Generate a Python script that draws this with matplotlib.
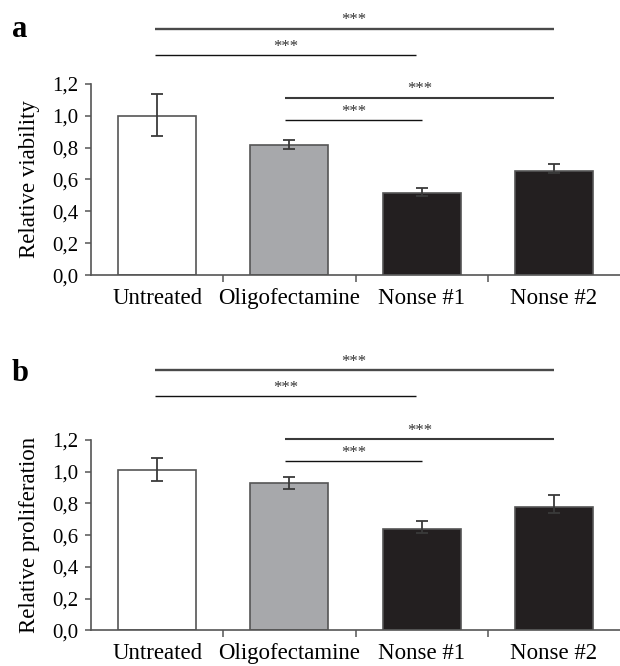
import matplotlib
matplotlib.use("Agg")
import matplotlib.pyplot as plt
from matplotlib.ticker import FixedLocator, FuncFormatter

plt.rcParams['font.family'] = ['Liberation Serif', 'DejaVu Serif']

categories = ["Untreated", "Oligofectamine", "Nonse #1", "Nonse #2"]
bar_colors = ["white", "#a7a8ab", "#231f20", "#231f20"]

# panel a: relative viability
viability = [1.00, 0.818, 0.515, 0.653]
viability_err_low = [0.124, 0.029, 0.019, 0.013]
viability_err_high = [0.134, 0.028, 0.033, 0.044]

# panel b: relative proliferation
proliferation = [1.011, 0.929, 0.64, 0.775]
proliferation_err_low = [0.067, 0.04, 0.025, 0.036]
proliferation_err_high = [0.078, 0.04, 0.05, 0.078]

# significance brackets: (start, end) category positions, heights per panel
sig_pairs = [(-0.02, 3.0), (-0.02, 1.96), (0.97, 3.0), (0.97, 2.0)]
sig_heights_a = [1.547, 1.382, 1.114, 0.975]
sig_heights_b = [1.641, 1.475, 1.208, 1.066]
sig_label = "***"

yticks = [0.0, 0.2, 0.4, 0.6, 0.8, 1.0, 1.2]

fig = plt.figure(figsize=(6.2, 6.66), dpi=100)
ax_a = fig.add_axes([0.147, 0.587, 0.853, 0.287])
ax_b = fig.add_axes([0.147, 0.0536, 0.853, 0.2857])

line_styles = [(1.7, "#4a4a4a"), (1.0, "#111111"), (1.5, "#3a3a3a"), (1.0, "#111111")]


def draw_panel(ax, values, err_low, err_high, heights, ylabel):
    x = range(len(categories))
    ax.bar(x, values, width=0.59, color=bar_colors, edgecolor="#555555",
           linewidth=1.2, zorder=2)
    ax.errorbar(x, values, yerr=[err_low, err_high], fmt="none",
                ecolor="#3a3a3a", elinewidth=1.3, capsize=4.5, capthick=1.3,
                zorder=3)
    ax.set_xlim(-0.5, 3.5)
    ax.set_ylim(0, 1.2)
    for s in ["top", "right"]:
        ax.spines[s].set_visible(False)
    for s in ["left", "bottom"]:
        ax.spines[s].set_color("#555555")
        ax.spines[s].set_linewidth(1.2)
    ax.set_yticks(yticks)
    ax.yaxis.set_major_formatter(FuncFormatter(lambda v, p: f"{v:.1f}".replace(".", ",")))
    ax.tick_params(axis="y", direction="out", length=4, width=1.1,
                   color="#555555", labelsize=15, pad=5)
    ax.xaxis.set_major_locator(FixedLocator([0.5, 1.5, 2.5]))
    ax.xaxis.set_minor_locator(FixedLocator(list(x)))
    ax.set_xticklabels([], minor=False)
    ax.set_xticklabels(categories, minor=True)
    ax.tick_params(axis="x", which="major", direction="out", length=5,
                   width=1.1, color="#555555")
    ax.tick_params(axis="x", which="minor", length=0, labelsize=16.5, pad=9)
    ax.set_ylabel(ylabel, fontsize=16.5, labelpad=9)

    for (x0, x1), h, (lw, c) in zip(sig_pairs, heights, line_styles):
        ax.plot([x0, x1], [h, h], color=c, lw=lw, clip_on=False,
                solid_capstyle="butt")
        ax.annotate(sig_label, xy=((x0 + x1) / 2, h), xytext=(0, 3),
                    textcoords="offset points", ha="center", va="baseline",
                    fontsize=12, color="#333333", annotation_clip=False)


draw_panel(ax_a, viability, viability_err_low, viability_err_high,
           sig_heights_a, "Relative viability")
draw_panel(ax_b, proliferation, proliferation_err_low, proliferation_err_high,
           sig_heights_b, "Relative proliferation")

fig.text(0.019, 0.944, "a", fontsize=22, fontweight="bold", va="baseline")
fig.text(0.019, 0.428, "b", fontsize=22, fontweight="bold", va="baseline")

fig.savefig("out.png", dpi=100)
